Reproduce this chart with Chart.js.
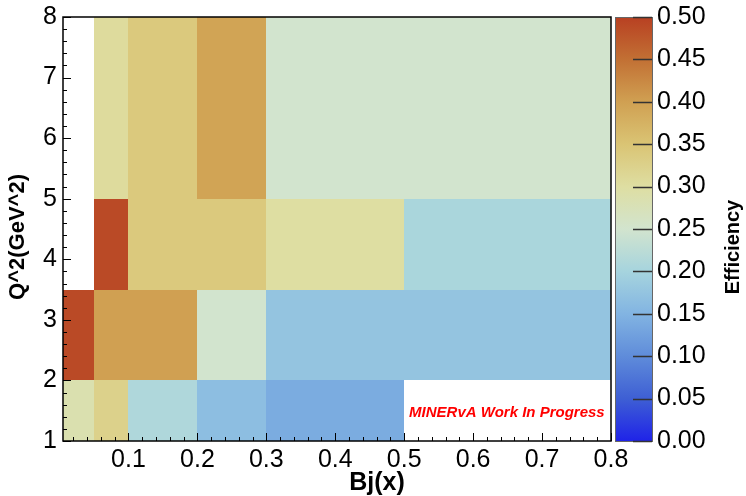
<!DOCTYPE html>
<html>
<head>
<meta charset="utf-8">
<script src="https://cdn.jsdelivr.net/npm/chart.js@4"></script>
<style>
  html, body { margin: 0; padding: 0; background: #ffffff; }
  #wrap { width: 746px; height: 496px; position: relative; }
</style>
</head>
<body>
<div id="wrap"><canvas id="c" width="746" height="496"></canvas></div>
<script>
// ---- data ----
const xEdges = [0, 0.05, 0.1, 0.2, 0.3, 0.5, 0.8];      // Bj(x) bin edges
const qEdges = [1, 2, 3.5, 5, 8];                        // Q^2 bin edges
// efficiency per Q^2 row (one value per x bin, null = empty bin)
const effQ1to2   = [0.285, 0.325, 0.21, 0.165, 0.14, null];
const effQ2to3p5 = [0.49, 0.40, 0.40, 0.25, 0.175, 0.175];
const effQ3p5to5 = [null, 0.49, 0.34, 0.34, 0.30, 0.205];
const effQ5to8   = [null, 0.305, 0.34, 0.395, 0.25, 0.25];
const effRows = [effQ1to2, effQ2to3p5, effQ3p5to5, effQ5to8];

const xTicks = [0.1, 0.2, 0.3, 0.4, 0.5, 0.6, 0.7, 0.8];
const xTickLabels = ['0.1', '0.2', '0.3', '0.4', '0.5', '0.6', '0.7', '0.8'];
const yTicks = [1, 2, 3, 4, 5, 6, 7, 8];
const yTickLabels = ['1', '2', '3', '4', '5', '6', '7', '8'];
const zTicks = [0, 0.05, 0.1, 0.15, 0.2, 0.25, 0.3, 0.35, 0.4, 0.45, 0.5];
const zTickLabels = ['0.00', '0.05', '0.10', '0.15', '0.20', '0.25', '0.30', '0.35', '0.40', '0.45', '0.50'];

const xTitle = 'Bj(x)';
const yTitle = 'Q^2(GeV^2)';
const zTitle = 'Efficiency';
const watermark = 'MINERvA Work In Progress';

// ---- palette ----
const palStops = [0, 0.05, 0.1, 0.15, 0.2, 0.25, 0.3, 0.35, 0.4, 0.45, 0.5];
const palColors = [
  [31, 35, 232], [62, 95, 212], [95, 140, 218], [130, 180, 226], [166, 212, 222],
  [210, 228, 206], [222, 222, 162], [218, 196, 116], [208, 160, 82], [194, 112, 52], [184, 64, 34]
];
function palette(v) {
  if (v <= palStops[0]) return 'rgb(' + palColors[0].join(',') + ')';
  for (let i = 1; i < palStops.length; i++) {
    if (v <= palStops[i]) {
      const t = (v - palStops[i - 1]) / (palStops[i] - palStops[i - 1]);
      const a = palColors[i - 1], b = palColors[i];
      return 'rgb(' + [0, 1, 2].map(k => Math.round(a[k] + (b[k] - a[k]) * t)).join(',') + ')';
    }
  }
  return 'rgb(' + palColors[palColors.length - 1].join(',') + ')';
}

const FONT = "'Liberation Sans', Arial, Helvetica, sans-serif";
const TICK_SIZE = 25;

const heatPlugin = {
  id: 'heat',
  beforeDatasetsDraw(chart) {
    const ctx = chart.ctx, xs = chart.scales.x, ys = chart.scales.y, a = chart.chartArea;
    ctx.save();
    ctx.beginPath();
    ctx.rect(a.left, a.top, a.right - a.left, a.bottom - a.top);
    ctx.clip();
    effRows.forEach((row, r) => {
      row.forEach((v, c) => {
        if (v === null) return;
        const x0 = xs.getPixelForValue(xEdges[c]), x1 = xs.getPixelForValue(xEdges[c + 1]);
        const y0 = ys.getPixelForValue(qEdges[r]), y1 = ys.getPixelForValue(qEdges[r + 1]);
        ctx.fillStyle = palette(v);
        ctx.fillRect(Math.round(x0), Math.round(y1), Math.round(x1) - Math.round(x0), Math.round(y0) - Math.round(y1));
      });
    });
    // watermark
    ctx.fillStyle = '#ff0000';
    ctx.font = 'italic bold 15px ' + FONT;
    ctx.textAlign = 'center';
    ctx.textBaseline = 'middle';
    ctx.fillText(watermark, xs.getPixelForValue(0.649), ys.getPixelForValue(1.47));
    ctx.restore();
  },
  afterDraw(chart) {
    const ctx = chart.ctx, xs = chart.scales.x, ys = chart.scales.y, zs = chart.scales.y2, a = chart.chartArea;
    ctx.save();
    // inward ticks
    ctx.strokeStyle = '#000';
    ctx.lineWidth = 1;
    ctx.beginPath();
    for (let i = 1; i <= 40; i++) {
      const v = i * 0.02;
      if (v < xs.min || v > xs.max) continue;
      const px = Math.round(xs.getPixelForValue(v)) + 0.5;
      const major = (i % 5 === 0);
      ctx.moveTo(px, a.bottom);
      ctx.lineTo(px, a.bottom - (major ? 8 : 4));
    }
    for (let i = 5; i <= 40; i++) {
      const v = i * 0.2;
      if (v < ys.min || v > ys.max) continue;
      const py = Math.round(ys.getPixelForValue(v)) + 0.5;
      const major = (i % 5 === 0);
      ctx.moveTo(a.left, py);
      ctx.lineTo(a.left + (major ? 8 : 4), py);
    }
    ctx.stroke();
    // frame
    ctx.lineWidth = 1.5;
    ctx.strokeStyle = '#000';
    ctx.strokeRect(a.left, a.top, a.right - a.left, a.bottom - a.top);

    // color bar
    const bx0 = a.right + 4, bx1 = a.right + 41;
    const by0 = zs.getPixelForValue(0), by1 = zs.getPixelForValue(0.5);
    const g = ctx.createLinearGradient(0, by0, 0, by1);
    palStops.forEach((s, i) => g.addColorStop(s / 0.5, 'rgb(' + palColors[i].join(',') + ')'));
    ctx.fillStyle = g;
    ctx.fillRect(bx0, by1, bx1 - bx0, by0 - by1);
    ctx.strokeStyle = '#666';
    ctx.lineWidth = 1;
    ctx.strokeRect(bx0 + 0.5, by1 + 0.5, bx1 - bx0, by0 - by1);
    ctx.strokeStyle = '#333';
    ctx.lineWidth = 1.3;
    ctx.beginPath();
    zTicks.forEach(v => {
      const py = Math.round(zs.getPixelForValue(v)) + 0.5;
      ctx.moveTo(bx1, py);
      ctx.lineTo(bx1 - 19, py);
    });
    ctx.stroke();

    // axis titles
    ctx.fillStyle = '#000';
    ctx.textAlign = 'center';
    ctx.textBaseline = 'middle';
    ctx.font = 'bold 25px ' + FONT;
    ctx.fillText(xTitle, 377, 483);
    ctx.save();
    ctx.translate(18, 237);
    ctx.rotate(-Math.PI / 2);
    ctx.font = 'bold 22px ' + FONT;
    ctx.fillText(yTitle, 0, 0);
    ctx.restore();
    ctx.save();
    ctx.translate(733, 247);
    ctx.rotate(-Math.PI / 2);
    ctx.font = 'bold 20px ' + FONT;
    ctx.fillText(zTitle, 0, 0);
    ctx.restore();
    ctx.restore();
  }
};

function fixTicks(values) {
  return function (scale) { scale.ticks = values.map(v => ({ value: v })); };
}
function fixSize(w, h) {
  return function (s) {
    if (w !== null) s.width = w;
    if (h !== null) s.height = h;
    s.paddingTop = 0; s.paddingBottom = 0; s.paddingLeft = 0; s.paddingRight = 0;
  };
}

new Chart(document.getElementById('c'), {
  type: 'scatter',
  data: { datasets: [{ data: [], pointRadius: 0 }] },
  options: {
    responsive: false,
    animation: false,
    devicePixelRatio: 1,
    layout: { padding: { top: 17, left: 0, right: 0, bottom: 0 } },
    plugins: { legend: { display: false }, tooltip: { enabled: false } },
    scales: {
      x: {
        type: 'linear', position: 'bottom', min: 0.005, max: 0.8,
        afterBuildTicks: fixTicks(xTicks),
        afterFit: fixSize(null, 55),
        grid: { display: false, drawTicks: false },
        border: { display: false },
        ticks: {
          padding: 4, color: '#000', maxRotation: 0, autoSkip: false,
          font: { family: FONT, size: TICK_SIZE },
          callback: (v) => { const i = xTicks.findIndex(t => Math.abs(t - v) < 1e-9); return i >= 0 ? xTickLabels[i] : ''; }
        }
      },
      y: {
        type: 'linear', position: 'left', min: 1, max: 8,
        afterBuildTicks: fixTicks(yTicks),
        afterFit: fixSize(63, null),
        grid: { display: false, drawTicks: false },
        border: { display: false },
        ticks: {
          padding: 6, color: '#000', autoSkip: false,
          font: { family: FONT, size: TICK_SIZE },
          callback: (v) => { const i = yTicks.findIndex(t => Math.abs(t - v) < 1e-9); return i >= 0 ? yTickLabels[i] : ''; }
        }
      },
      y2: {
        type: 'linear', position: 'right', min: 0, max: 0.5,
        afterBuildTicks: fixTicks(zTicks),
        afterFit: fixSize(135, null),
        grid: { display: false, drawTicks: false },
        border: { display: false },
        ticks: {
          padding: 46, color: '#000', autoSkip: false,
          font: { family: FONT, size: TICK_SIZE },
          callback: (v) => { const i = zTicks.findIndex(t => Math.abs(t - v) < 1e-9); return i >= 0 ? zTickLabels[i] : ''; }
        }
      }
    }
  },
  plugins: [heatPlugin]
});
</script>
</body>
</html>
